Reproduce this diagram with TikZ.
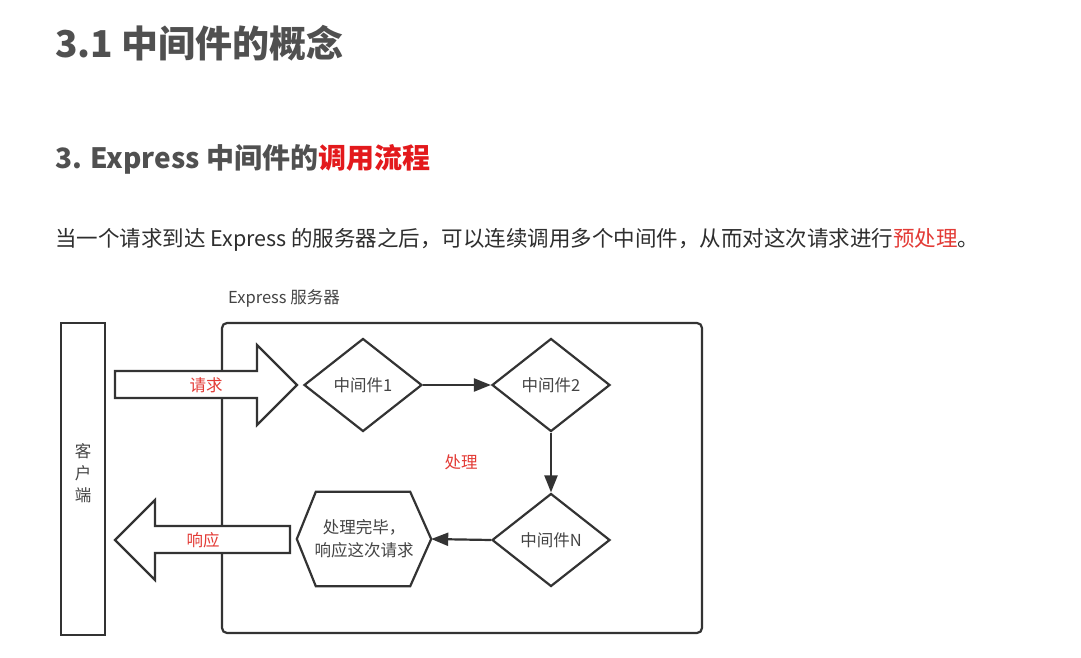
\documentclass[tikz,border=0pt]{standalone}
\usepackage{fontspec}
\setmainfont{Noto Sans CJK SC}
\usetikzlibrary{shapes.geometric,arrows.meta,calc}

\definecolor{headgray}{HTML}{505050}
\definecolor{hired}{HTML}{E3191C}
\definecolor{bodyink}{HTML}{2E2E2E}
\definecolor{lineink}{HTML}{333333}
\definecolor{textink}{HTML}{444444}
\definecolor{labelred}{HTML}{E33B36}

\tikzset{
  heading/.style={anchor=west, inner sep=0pt, text=headgray, font=\fontsize{37}{44}\selectfont\bfseries},
  subheading/.style={anchor=west, inner sep=0pt, text=headgray, font=\fontsize{28}{33}\selectfont\bfseries},
  bodytext/.style={anchor=west, inner sep=0pt, text=bodyink, font=\fontsize{21.5}{26}\selectfont},
  plainbox/.style={draw=lineink, line width=2.2pt, inner sep=0pt},
  decision/.style={diamond, draw=lineink, line width=2.2pt, fill=white, inner sep=0pt,
    minimum width=118pt, minimum height=93pt, text=textink, font=\fontsize{16.5}{19}\selectfont},
  blockarrow/.style={draw=lineink, line width=2.2pt, fill=white, line join=miter},
  flow/.style={draw=lineink, line width=2.2pt, -{Triangle[length=17pt,width=13pt]}},
  redlabel/.style={inner sep=0pt, text=labelred, font=\fontsize{16.5}{19}\selectfont},
  graylabel/.style={inner sep=0pt, text=textink, font=\fontsize{16.5}{19}\selectfont},
}

\begin{document}
\begin{tikzpicture}[x=1pt, y=-1pt]
  \useasboundingbox[fill=white] (0,0) rectangle (1081,658);

  % headings and introduction
  \node[heading] (title) at (55,43) {3.1 中间件的概念};
  \node[subheading] (subtitle) at (55,159) {3. Express 中间件的\textcolor{hired}{调用流程}};
  \node[bodytext] (intro) at (55,240) {当一个请求到达 Express 的服务器之后，可以连续调用多个中间件，从而对这次请求进行\textcolor{labelred}{预处理}。};

  % client and server frames
  \node[graylabel, anchor=west] (serverlabel) at (228,298) {Express 服务器};
  \node[plainbox, minimum width=44pt, minimum height=312pt] (client) at (83,479) {};
  \node[graylabel, align=center] (clientlabel) at (83,473) {客\\[3pt]户\\[3pt]端};
  \node[plainbox, rounded corners=5pt, minimum width=480pt, minimum height=310pt] (server) at (462,478) {};

  % request and response block arrows
  \draw[blockarrow] (115,371) -- (257,371) -- (257,345) -- (297,385) -- (257,425) -- (257,398) -- (115,398) -- cycle;
  \node[redlabel] (req) at (206,385) {请求};
  \draw[blockarrow] (290,526) -- (155,526) -- (155,500) -- (115,540) -- (155,580) -- (155,553) -- (290,553) -- cycle;
  \node[redlabel] (resp) at (203,540) {响应};

  % middleware chain
  \node[decision] (m1) at (363,385) {中间件1};
  \node[decision] (m2) at (551,385) {中间件2};
  \node[decision] (mN) at (551,540) {中间件N};
  \node[inner sep=0pt, minimum width=134pt, minimum height=94pt, align=center,
        text=textink, font=\fontsize{16.5}{23}\selectfont] (done) at (364,539) {处理完毕，\\响应这次请求};
  \draw[draw=lineink, line width=2.2pt, line join=miter]
    (done.west) -- ($(done.north west)+(19,0)$) -- ($(done.north east)+(-21,0)$) -- (done.east)
    -- ($(done.south east)+(-21,0)$) -- ($(done.south west)+(19,0)$) -- cycle;
  \node[redlabel] (proc) at (461,462) {处理};

  \draw[flow] (m1.east) -- (m2.west);
  \draw[flow] (m2.south) -- (mN.north);
  \draw[flow] (mN.west) -- (done.east);
\end{tikzpicture}
\end{document}
